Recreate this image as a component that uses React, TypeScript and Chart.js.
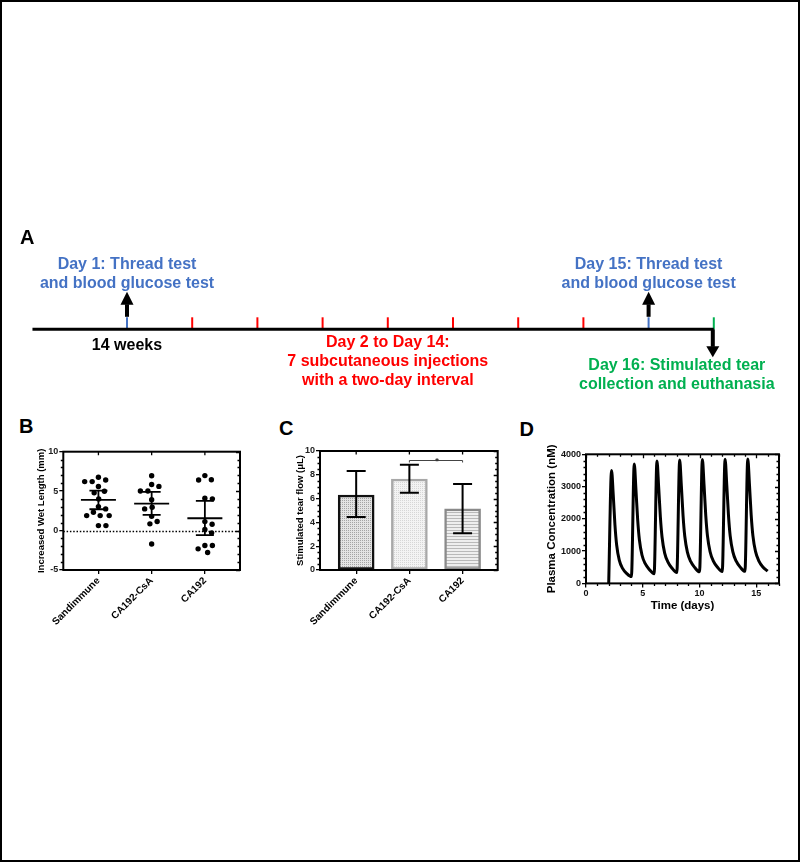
import React, { useEffect, useRef } from 'react';
import { Chart, registerables } from 'chart.js';

Chart.register(...registerables);

const FONT = "'Liberation Sans', Arial, Helvetica, sans-serif";
const BLUE = '#4472C4';
const RED = '#FF0000';
const GREEN = '#00B050';

// ---------- Panel A : study timeline ----------
const timelineDays = [1, 2, 4, 6, 8, 10, 12, 14, 15, 16];
const timelineKinds = ['test', 'injection', 'injection', 'injection', 'injection', 'injection', 'injection', 'injection', 'test', 'end'];
const timelineStartLabel = '14 weeks';
const day1Lines = ['Day 1: Thread test', 'and blood glucose test'];
const injectionLines = ['Day 2 to Day 14:', '7 subcutaneous injections', 'with a two-day interval'];
const day15Lines = ['Day 15: Thread test', 'and blood glucose test'];
const day16Lines = ['Day 16: Stimulated tear', 'collection and euthanasia'];

// ---------- Panel B : increased wet length ----------
const groupNames = ['Sandimmune', 'CA192-CsA', 'CA192'];
const wetSandimmune = [6.42, 6.21, 6.21, 6.76, 5.58, 4.99, 4.78, 4.01, 2.75, 3.04, 2.32, 1.9, 1.9, 1.9, 0.63, 0.63];
const wetCsA = [6.95, 5.85, 5.6, 5.02, 5.02, 3.9, 2.95, 2.75, 1.8, 1.15, 0.85, -1.7];
const wetCA192 = [6.97, 6.42, 6.45, 4.1, 4.02, 0.8, 1.14, 0.13, -0.29, -1.9, -1.9, -2.79, -2.32];
const wetMean = [3.89, 3.42, 1.56];
const wetCILow = [2.7, 1.99, -0.59];
const wetCIHigh = [5.07, 4.9, 3.76];

// ---------- Panel C : stimulated tear flow ----------
const tearFlowMean = [6.3, 7.65, 5.13];
const tearFlowLow = [4.45, 6.5, 3.08];
const tearFlowHigh = [8.32, 8.85, 7.23];
const sigPair = [1, 2];
const sigLevel = 9.24;
const sigMark = '*';

// ---------- Panel D : plasma concentration ----------
const timeDays = [
  2.0, 2.25, 2.4, 2.55, 2.7, 2.93, 3.22, 3.58, 4.0,
  4.25, 4.4, 4.55, 4.7, 4.93, 5.22, 5.58, 6.0,
  6.25, 6.4, 6.55, 6.7, 6.93, 7.22, 7.58, 8.0,
  8.25, 8.4, 8.55, 8.7, 8.93, 9.22, 9.58, 10.0,
  10.25, 10.4, 10.55, 10.7, 10.93, 11.22, 11.58, 12.0,
  12.25, 12.4, 12.55, 12.7, 12.93, 13.22, 13.58, 14.0,
  14.25, 14.4, 14.55, 14.7, 14.93, 15.22, 15.58, 16.0,
];
const plasmaNM = [
  0, 3500, 2740, 1810, 1190, 720, 465, 310, 210,
  3700, 2900, 1980, 1360, 880, 610, 430, 300,
  3790, 2990, 2060, 1430, 940, 660, 470, 340,
  3820, 3020, 2090, 1460, 970, 680, 490, 360,
  3840, 3035, 2100, 1470, 980, 690, 500, 370,
  3850, 3045, 2110, 1475, 985, 695, 505, 375,
  3855, 3050, 2115, 1480, 990, 700, 510, 380,
];
const dayTicks = [0, 5, 10, 15];

const kindColor: Record<string, string> = { test: BLUE, injection: RED, end: GREEN };

// ---------- helpers ----------
function swarm(values: number[], pxY: number, pxX: number, gap: number): number[] {
  const order = values.map((_, i) => i).sort((a, b) => values[b] - values[a]);
  const placed: [number, number][] = [];
  const out = new Array(values.length).fill(0);
  for (const i of order) {
    const yy = values[i] * pxY;
    let chosen = 0;
    for (let k = 0; k < 600; k++) {
      const dx = (k % 2 === 1 ? 1 : -1) * Math.ceil(k / 2) * 0.25;
      if (placed.every(([px, py]) => (px - dx) ** 2 + (py - yy) ** 2 >= gap * gap)) {
        chosen = dx;
        break;
      }
    }
    placed.push([chosen, yy]);
    out[i] = chosen / pxX;
  }
  return out;
}

function dotPattern(bg: string, dot: string) {
  const c = document.createElement('canvas');
  c.width = 2;
  c.height = 2;
  const g = c.getContext('2d')!;
  g.fillStyle = bg;
  g.fillRect(0, 0, 2, 2);
  g.fillStyle = dot;
  g.fillRect(0, 0, 1, 1);
  return g.createPattern(c, 'repeat');
}

function stripePattern(bg: string, line: string) {
  const c = document.createElement('canvas');
  c.width = 3;
  c.height = 3;
  const g = c.getContext('2d')!;
  g.fillStyle = bg;
  g.fillRect(0, 0, 3, 3);
  g.fillStyle = line;
  g.fillRect(0, 0, 3, 1);
  return g.createPattern(c, 'repeat');
}

const isMultiple = (v: number, step: number) => Math.abs(v / step - Math.round(v / step)) < 1e-6;

const framePlugin = {
  id: 'frameTicks',
  afterDraw(chart: any, _args: any, opts: any) {
    if (!opts || !opts.enabled) return;
    const { ctx, chartArea: a, scales } = chart;
    const x = scales.x;
    const y = scales.y;
    ctx.save();
    ctx.strokeStyle = '#000';
    ctx.lineWidth = 1.3;
    ctx.beginPath();
    for (let v = opts.yMin; v <= opts.yMax + 1e-9; v += opts.yMinor) {
      const py = Math.round(y.getPixelForValue(v)) + 0.5;
      const major = isMultiple(v, opts.yMajor);
      if (!major) {
        ctx.moveTo(a.left, py);
        ctx.lineTo(a.left - 2.5, py);
      }
      ctx.moveTo(a.right, py);
      ctx.lineTo(a.right - (major ? 4 : 2.5), py);
    }
    if (opts.xTop) {
      for (const v of opts.xTop) {
        const px = x.getPixelForValue(v);
        ctx.moveTo(px, a.top);
        ctx.lineTo(px, a.top + 3.5);
      }
    }
    if (opts.xMinor) {
      for (let v = opts.xMin; v <= opts.xMax + 1e-9; v += opts.xMinor) {
        const px = Math.round(x.getPixelForValue(v)) + 0.5;
        if (!isMultiple(v, opts.xMajor)) {
          ctx.moveTo(px, a.bottom);
          ctx.lineTo(px, a.bottom + 2.5);
        }
        ctx.moveTo(px, a.top);
        ctx.lineTo(px, a.top + (isMultiple(v, opts.xMajor) ? 4 : 2.5));
      }
    }
    ctx.stroke();
    ctx.lineWidth = 2;
    ctx.strokeRect(a.left, a.top, a.right - a.left, a.bottom - a.top);
    ctx.restore();
  },
};

const timelinePlugin = {
  id: 'timeline',
  afterDatasetsDraw(chart: any) {
    const { ctx, scales } = chart;
    const x = scales.x;
    const y = scales.y;
    const y0 = y.getPixelForValue(0);
    const px = (i: number) => x.getPixelForValue(i);
    const injIdx = timelineKinds.map((k, i) => (k === 'injection' ? i : -1)).filter((i) => i >= 0);
    const testIdx = timelineKinds.map((k, i) => (k === 'test' ? i : -1)).filter((i) => i >= 0);
    const endIdx = timelineKinds.indexOf('end');
    ctx.save();
    ctx.font = `bold 16px ${FONT}`;
    ctx.textAlign = 'center';
    ctx.textBaseline = 'alphabetic';
    const block = (lines: string[], cx: number, firstBase: number, color: string, gap: number) => {
      ctx.fillStyle = color;
      lines.forEach((t, k) => ctx.fillText(t, cx, firstBase + k * gap));
    };
    block(day1Lines, px(testIdx[0]), y0 - 60, BLUE, 18.7);
    block([timelineStartLabel], px(0), y0 + 20.7, '#000', 0);
    block(injectionLines, px((injIdx[0] + injIdx[injIdx.length - 1]) / 2), y0 + 17.4, RED, 19.2);
    block(day15Lines, px(testIdx[1]), y0 - 60, BLUE, 18.7);
    block(day16Lines, px(endIdx) - 37, y0 + 40.7, GREEN, 18.5);

    ctx.fillStyle = '#000';
    const up = (cx: number) => {
      ctx.fillRect(cx - 2, y0 - 25, 4, 12.5);
      ctx.beginPath();
      ctx.moveTo(cx - 6.5, y0 - 24.5);
      ctx.lineTo(cx + 6.5, y0 - 24.5);
      ctx.lineTo(cx, y0 - 37.6);
      ctx.closePath();
      ctx.fill();
    };
    const down = (cx: number) => {
      ctx.fillRect(cx - 2, y0, 4, 17.5);
      ctx.beginPath();
      ctx.moveTo(cx - 6.5, y0 + 17);
      ctx.lineTo(cx + 6.5, y0 + 17);
      ctx.lineTo(cx, y0 + 28);
      ctx.closePath();
      ctx.fill();
    };
    testIdx.forEach((i) => up(px(i)));
    down(px(endIdx) - 1);
    ctx.restore();
  },
};

const wetPlugin = {
  id: 'wetSummary',
  beforeDatasetsDraw(chart: any) {
    const { ctx, chartArea: a, scales } = chart;
    const py = Math.round(scales.y.getPixelForValue(0)) + 0.5;
    ctx.save();
    ctx.strokeStyle = '#000';
    ctx.lineWidth = 1.3;
    ctx.setLineDash([1.5, 1.8]);
    ctx.beginPath();
    ctx.moveTo(a.left, py);
    ctx.lineTo(a.right, py);
    ctx.stroke();
    ctx.restore();
  },
  afterDatasetsDraw(chart: any) {
    const { ctx, scales } = chart;
    const x = scales.x;
    const y = scales.y;
    ctx.save();
    ctx.strokeStyle = '#000';
    ctx.lineWidth = 1.8;
    wetMean.forEach((m, g) => {
      const cx = x.getPixelForValue(g);
      const ym = y.getPixelForValue(m);
      const yl = y.getPixelForValue(wetCILow[g]);
      const yh = y.getPixelForValue(wetCIHigh[g]);
      ctx.beginPath();
      ctx.moveTo(cx - 17.5, ym);
      ctx.lineTo(cx + 17.5, ym);
      ctx.moveTo(cx, yl);
      ctx.lineTo(cx, yh);
      ctx.moveTo(cx - 9, yl);
      ctx.lineTo(cx + 9, yl);
      ctx.moveTo(cx - 9, yh);
      ctx.lineTo(cx + 9, yh);
      ctx.stroke();
    });
    ctx.restore();
  },
};

const tearPlugin = {
  id: 'tearErrors',
  afterDatasetsDraw(chart: any) {
    const { ctx, scales } = chart;
    const x = scales.x;
    const y = scales.y;
    ctx.save();
    ctx.strokeStyle = '#000';
    ctx.lineWidth = 2;
    tearFlowMean.forEach((_, g) => {
      const cx = x.getPixelForValue(g);
      const yl = y.getPixelForValue(tearFlowLow[g]);
      const yh = y.getPixelForValue(tearFlowHigh[g]);
      ctx.beginPath();
      ctx.moveTo(cx, yl);
      ctx.lineTo(cx, yh);
      ctx.moveTo(cx - 9.5, yl);
      ctx.lineTo(cx + 9.5, yl);
      ctx.moveTo(cx - 9.5, yh);
      ctx.lineTo(cx + 9.5, yh);
      ctx.stroke();
    });
    const x1 = x.getPixelForValue(sigPair[0]);
    const x2 = x.getPixelForValue(sigPair[1]);
    const ys = Math.round(y.getPixelForValue(sigLevel)) + 0.5;
    ctx.strokeStyle = '#444';
    ctx.lineWidth = 1;
    ctx.beginPath();
    ctx.moveTo(x1, ys + 2);
    ctx.lineTo(x1, ys);
    ctx.lineTo(x2, ys);
    ctx.lineTo(x2, ys + 2);
    ctx.stroke();
    ctx.fillStyle = '#333';
    ctx.font = `bold 9px ${FONT}`;
    ctx.textAlign = 'center';
    ctx.textBaseline = 'alphabetic';
    ctx.fillText(sigMark, (x1 + x2) / 2 + 1, ys + 3);
    ctx.restore();
  },
};

const tickFont = (size: number) => ({ family: FONT, size, weight: 'bold' as const });
const baseGrid = { drawOnChartArea: false, drawTicks: true, tickLength: 4, color: '#000', lineWidth: 1.3 };
const baseOpts = {
  animation: false as const,
  responsive: false,
  maintainAspectRatio: false,
  events: [] as any[],
};
const plainNumber = (v: any) => String(v);

function makeA(canvas: HTMLCanvasElement) {
  return new Chart(canvas, {
    type: 'scatter',
    data: {
      datasets: [
        {
          type: 'line',
          data: [{ x: -1.45, y: 0 }, { x: timelineDays.length - 1, y: 0 }],
          borderColor: '#000',
          borderWidth: 3,
          pointRadius: 0,
        } as any,
        {
          data: timelineDays.map((_, i) => ({ x: i, y: 6 })),
          pointStyle: 'line',
          pointRotation: 90,
          pointRadius: 6,
          pointBorderColor: timelineKinds.map((k) => kindColor[k]),
          pointBorderWidth: 2,
        } as any,
      ],
    },
    options: {
      ...baseOpts,
      layout: { padding: 0, autoPadding: false },
      plugins: { legend: { display: false }, tooltip: { enabled: false } },
      scales: {
        x: { type: 'linear', display: false, min: -127 / 65.2, max: 673 / 65.2 },
        y: { type: 'linear', display: false, min: -70.7, max: 109.3 },
      },
    } as any,
    plugins: [timelinePlugin],
  });
}

function makeB(canvas: HTMLCanvasElement) {
  const pxY = 118.3 / 15;
  const pxX = 53.2;
  const groups = [wetSandimmune, wetCsA, wetCA192];
  const pts = groups.flatMap((vals, g) => {
    const off = swarm(vals, pxY, pxX, 7.5);
    return vals.map((v, i) => ({ x: g + off[i], y: v }));
  });
  return new Chart(canvas, {
    type: 'scatter',
    data: {
      datasets: [
        { data: pts, pointRadius: 2.7, pointBackgroundColor: '#000', pointBorderWidth: 0, pointHoverRadius: 2.7 },
      ],
    },
    options: {
      ...baseOpts,
      layout: { padding: { left: 31.3, top: 11.7, right: 25, bottom: 0 }, autoPadding: false },
      plugins: {
        legend: { display: false },
        tooltip: { enabled: false },
        frameTicks: { enabled: true, yMin: -5, yMax: 10, yMinor: 1, yMajor: 5, xTop: [0, 1, 2] },
      },
      scales: {
        x: {
          type: 'linear',
          min: -0.66,
          max: 2.66,
          afterBuildTicks: (s: any) => {
            s.ticks = groupNames.map((_, i) => ({ value: i }));
          },
          ticks: {
            callback: (v: any) => groupNames[v],
            minRotation: 45,
            maxRotation: 45,
            autoSkip: false,
            font: tickFont(10),
            color: '#000',
            padding: 1,
          },
          grid: baseGrid,
          border: { display: false },
          afterFit: (s: any) => {
            s.height = 60;
          },
        },
        y: {
          type: 'linear',
          min: -5,
          max: 10,
          ticks: { stepSize: 5, font: tickFont(9), color: '#222', padding: 1, callback: plainNumber },
          title: {
            display: true,
            text: 'Increased Wet Length (mm)',
            font: tickFont(9.5),
            color: '#000',
            padding: { top: 4, bottom: 0 },
          },
          grid: baseGrid,
          border: { display: false },
          afterFit: (s: any) => {
            s.width = 32;
          },
        },
      },
    } as any,
    plugins: [framePlugin, wetPlugin],
  });
}

function makeC(canvas: HTMLCanvasElement) {
  const fills = [
    dotPattern('#e3e3e3', '#a4a4a4'),
    dotPattern('#f3f3f3', '#d6d6d6'),
    stripePattern('#eeeeee', '#b9b9b9'),
  ];
  return new Chart(canvas, {
    type: 'bar',
    data: {
      datasets: [
        {
          data: tearFlowMean.map((v, i) => ({ x: i, y: v })),
          backgroundColor: fills as any,
          borderColor: ['#111111', '#a8a8a8', '#8a8a8a'],
          borderWidth: 2.5,
          borderSkipped: false,
          barThickness: 36,
        } as any,
      ],
    },
    options: {
      ...baseOpts,
      layout: { padding: { left: 20.3, top: 11, right: 22.3, bottom: 0 }, autoPadding: false },
      plugins: {
        legend: { display: false },
        tooltip: { enabled: false },
        frameTicks: { enabled: true, yMin: 0, yMax: 10, yMinor: 0.5, yMajor: 2, xTop: [0, 1, 2] },
      },
      scales: {
        x: {
          type: 'linear',
          offset: false,
          min: -0.68,
          max: 2.66,
          afterBuildTicks: (s: any) => {
            s.ticks = groupNames.map((_, i) => ({ value: i }));
          },
          ticks: {
            callback: (v: any) => groupNames[v],
            minRotation: 45,
            maxRotation: 45,
            autoSkip: false,
            font: tickFont(10),
            color: '#000',
            padding: 1,
          },
          grid: { ...baseGrid, offset: false },
          border: { display: false },
          afterFit: (s: any) => {
            s.height = 60;
          },
        },
        y: {
          type: 'linear',
          min: 0,
          max: 10,
          ticks: { stepSize: 2, font: tickFont(9), color: '#222', padding: 1, callback: plainNumber },
          title: {
            display: true,
            text: 'Stimulated tear flow (μL)',
            font: tickFont(9.5),
            color: '#000',
            padding: { top: 4, bottom: 0 },
          },
          grid: baseGrid,
          border: { display: false },
          afterFit: (s: any) => {
            s.width = 29.7;
          },
        },
      },
    } as any,
    plugins: [framePlugin, tearPlugin],
  });
}

function makeD(canvas: HTMLCanvasElement) {
  return new Chart(canvas, {
    type: 'scatter',
    data: {
      datasets: [
        {
          data: timeDays.map((t, i) => ({ x: t, y: plasmaNM[i] })),
          showLine: true,
          borderColor: '#000',
          borderWidth: 3,
          borderJoinStyle: 'round',
          pointRadius: 0,
          cubicInterpolationMode: 'monotone',
          fill: false,
        } as any,
      ],
    },
    options: {
      ...baseOpts,
      layout: { padding: { left: 25.8, top: 14.3, right: 16, bottom: 0 }, autoPadding: false },
      plugins: {
        legend: { display: false },
        tooltip: { enabled: false },
        frameTicks: {
          enabled: true,
          yMin: 0,
          yMax: 4000,
          yMinor: 200,
          yMajor: 1000,
          xMin: 0,
          xMax: 17,
          xMinor: 1,
          xMajor: 5,
        },
      },
      scales: {
        x: {
          type: 'linear',
          min: 0,
          max: 17,
          afterBuildTicks: (s: any) => {
            s.ticks = dayTicks.map((v) => ({ value: v }));
          },
          ticks: { font: tickFont(9), color: '#111', padding: 1, maxRotation: 0, callback: plainNumber },
          title: {
            display: true,
            text: 'Time (days)',
            font: tickFont(11.5),
            color: '#000',
            padding: { top: 2, bottom: 4 },
          },
          grid: baseGrid,
          border: { display: false },
          afterFit: (s: any) => {
            s.height = 33.6;
          },
        },
        y: {
          type: 'linear',
          min: 0,
          max: 4000,
          ticks: { stepSize: 1000, font: tickFont(9), color: '#111', padding: 1, callback: plainNumber },
          title: {
            display: true,
            text: 'Plasma Concentration (nM)',
            font: tickFont(11.5),
            color: '#000',
            padding: { top: 4, bottom: 0 },
          },
          grid: baseGrid,
          border: { display: false },
          afterFit: (s: any) => {
            s.width = 45.2;
          },
        },
      },
    } as any,
    plugins: [framePlugin],
  });
}

const letterStyle = (left: number, top: number): React.CSSProperties => ({
  position: 'absolute',
  left,
  top,
  font: `bold 20px ${FONT}`,
  lineHeight: '20px',
  color: '#000',
  margin: 0,
});

export default function App() {
  const refA = useRef<HTMLCanvasElement>(null);
  const refB = useRef<HTMLCanvasElement>(null);
  const refC = useRef<HTMLCanvasElement>(null);
  const refD = useRef<HTMLCanvasElement>(null);

  useEffect(() => {
    const charts: Chart[] = [];
    if (refA.current) charts.push(makeA(refA.current));
    if (refB.current) charts.push(makeB(refB.current));
    if (refC.current) charts.push(makeC(refC.current));
    if (refD.current) charts.push(makeD(refD.current));
    return () => charts.forEach((c) => c.destroy());
  }, []);

  const cv = (left: number, top: number, w: number, h: number): React.CSSProperties => ({
    position: 'absolute',
    left,
    top,
    width: w,
    height: h,
  });

  return (
    <div style={{ position: 'absolute', left: 0, top: 0, width: 800, height: 862, background: '#fff', overflow: 'hidden' }}>
      <canvas ref={refA} width={800} height={180} style={cv(0, 220, 800, 180)} />
      <canvas ref={refB} width={265} height={190} style={cv(0, 440, 265, 190)} />
      <canvas ref={refC} width={250} height={190} style={cv(270, 440, 250, 190)} />
      <canvas ref={refD} width={280} height={177} style={cv(515, 440, 280, 177)} />
      <div style={letterStyle(20, 227)}>A</div>
      <div style={letterStyle(19, 416)}>B</div>
      <div style={letterStyle(279, 418)}>C</div>
      <div style={letterStyle(519.5, 418.5)}>D</div>
      <div
        style={{
          position: 'absolute',
          left: 0,
          top: 0,
          width: 800,
          height: 862,
          boxSizing: 'border-box',
          border: '2px solid #000',
          pointerEvents: 'none',
        }}
      />
    </div>
  );
}
